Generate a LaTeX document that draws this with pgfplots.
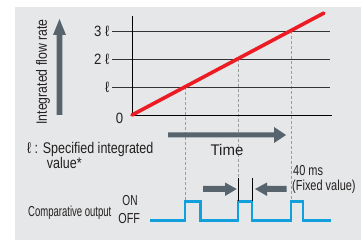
\documentclass[border=0pt]{standalone}
\usepackage{fontspec}
\setmainfont{Liberation Sans}
\usepackage{graphicx}
\usepackage{pgfplots}
\pgfplotsset{compat=1.18}
\definecolor{bg}{HTML}{E6E7E8}
\definecolor{slate}{HTML}{58646D}
\definecolor{txt}{HTML}{231F20}
\definecolor{redl}{HTML}{ED1C24}
\definecolor{bluel}{HTML}{12A0DD}
\definecolor{dashg}{HTML}{9C9C9C}
\newcommand{\fs}[3]{\scalebox{#2}[1]{\fontsize{#1}{#1}\selectfont #3}}
\begin{document}
\begin{tikzpicture}[x=1bp,y=1bp]
\useasboundingbox (0,0) rectangle (361,240);
\fill[white] (0,0) rectangle (361,240);
\fill[bg] (15,0) rectangle (361,233.3);

% main axis: integrated flow rate in units of l
\begin{axis}[at={(132bp,125bp)}, anchor=south west, x=53bp, y=28bp,
  xmin=0, xmax=3.77, ymin=0, ymax=3.54, hide axis, clip=false]
\addplot[dashg, line width=0.8pt, dash pattern=on 3bp off 2bp] coordinates {(1,1) (1,-3.1)};
\addplot[dashg, line width=0.8pt, dash pattern=on 3bp off 2bp] coordinates {(2,2) (2,-3.1)};
\addplot[dashg, line width=0.8pt, dash pattern=on 3bp off 2bp] coordinates {(3,3) (3,-3.1)};
\addplot[black!80, line width=0.8pt] coordinates {(-0.37,1) (3.74,1)};
\addplot[black!80, line width=0.8pt] coordinates {(-0.37,2) (3.74,2)};
\addplot[black!80, line width=0.8pt] coordinates {(-0.37,3) (3.74,3)};
\addplot[black, line width=1pt] coordinates {(0,0) (3.77,0)};
\addplot[black, line width=1pt] coordinates {(0,0) (0,3.54)};
\addplot[redl, line width=3.6bp, line cap=round] coordinates {(0,0) (3.62,3.64)};
\end{axis}

% comparative output: OFF = 0, ON = 1
\begin{axis}[at={(132bp,19.3bp)}, anchor=south west, x=53bp, y=19bp,
  xmin=0, xmax=3.77, ymin=0, ymax=1, hide axis, clip=false]
\addplot[bluel, line width=2.4bp] coordinates {(0.34,0) (1,0) (1,1) (1.29,1) (1.29,0) (2,0) (2,1) (2.26,1) (2.26,0) (3,0) (3,1) (3.23,1) (3.23,0) (3.75,0)};
\end{axis}

% big arrows
\fill[slate] (56.7,125) -- (62.3,125) -- (62.3,205) -- (66,205) -- (59.5,221) -- (53,205) -- (56.7,205) -- cycle;
\fill[slate] (168,102.5) -- (274,102.5) -- (274,97) -- (286,105) -- (274,113) -- (274,107.5) -- (168,107.5) -- cycle;
\fill[slate] (203,48) -- (225,48) -- (225,44) -- (236.7,51) -- (225,57.5) -- (225,54) -- (203,54) -- cycle;
\fill[slate] (286.7,48) -- (267,48) -- (267,44) -- (255,51) -- (267,57.5) -- (267,54) -- (286.7,54) -- cycle;
\draw[black, line width=0.8pt] (238.5,62) -- (238.5,39);
\draw[black, line width=0.8pt] (252,62) -- (252,39);

% texts
\begin{scope}[txt]
\node[rotate=90, inner sep=0, anchor=center] at (43,168) {\fs{15}{0.82}{Integrated flow rate}};
\node[anchor=east, inner sep=0] at (109.5,209) {\fs{15}{0.88}{3 ℓ}};
\node[anchor=east, inner sep=0] at (109.5,181) {\fs{15}{0.88}{2 ℓ}};
\node[anchor=east, inner sep=0] at (109.5,153) {\fs{15}{0.88}{ℓ}};
\node[anchor=center, inner sep=0] at (119.5,121.5) {\fs{15}{0.88}{0}};
\node[anchor=base, inner sep=0] at (227,85) {\fs{15.5}{0.97}{Time}};
\node[anchor=base west, inner sep=0] at (27,86.7) {\fs{15.5}{0.81}{ℓ : Specified integrated}};
\node[anchor=base west, inner sep=0] at (46.7,71.7) {\fs{15.5}{0.81}{value*}};
\node[anchor=base west, inner sep=0] at (28,23.3) {\fs{14.5}{0.66}{Comparative output}};
\node[anchor=base, inner sep=0] at (130,35) {\fs{14.5}{0.7}{ON}};
\node[anchor=base, inner sep=0] at (129.2,16.7) {\fs{14.5}{0.75}{OFF}};
\node[anchor=base west, inner sep=0] at (293,64.5) {\fs{14.5}{0.76}{40 ms}};
\node[anchor=base west, inner sep=0] at (292,49.5) {\fs{14.5}{0.76}{(Fixed value)}};
\end{scope}
\end{tikzpicture}
\end{document}
